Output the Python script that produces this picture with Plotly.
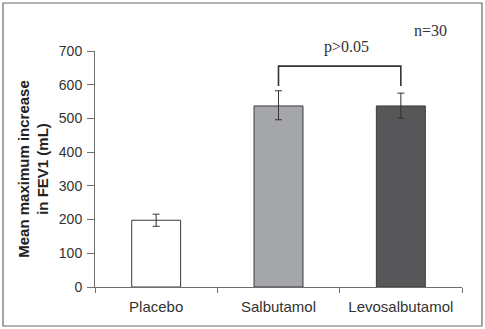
import plotly.graph_objects as go

# Mean maximum increase in FEV1 (mL) with SE, n=30
treatments = ["Placebo", "Salbutamol", "Levosalbutamol"]
mean_increase = [198, 537, 537]
err_plus = [18, 45, 38]
err_minus = [18, 41, 36]
bar_colors = ["#ffffff", "#a5a6a9", "#57575a"]

# significance bracket between the two active treatments
bracket_x = ["Salbutamol", "Salbutamol", "Levosalbutamol", "Levosalbutamol"]
bracket_y = [596, 655, 655, 596]
p_label = "p>0.05"
n_label = "n=30"

y_ticks = [0, 100, 200, 300, 400, 500, 600, 700]

# plot area in pixels: x 95..462, y 51..287
L, R, T, B = 95, 462, 51, 287
W, H = R - L, B - T


def px_x(x):
    return (x - L) / W


def px_y(y):
    return (B - y) / H


serif = dict(family="Liberation Serif, Times New Roman, serif", size=16, color="#333333")

fig = go.Figure()
fig.add_trace(go.Bar(
    x=treatments,
    y=mean_increase,
    marker=dict(color=bar_colors, line=dict(color="#3a3a3a", width=1)),
    error_y=dict(type="data", symmetric=False, array=err_plus, arrayminus=err_minus,
                 color="#333333", thickness=1, width=3.5),
    width=0.4,
    showlegend=False,
))
fig.add_trace(go.Scatter(
    x=bracket_x, y=bracket_y, mode="lines",
    line=dict(color="#333333", width=1.6),
    showlegend=False, hoverinfo="skip",
))

fig.add_annotation(x=px_x(346), y=px_y(47), xref="paper", yref="paper", text=p_label,
                   showarrow=False, font=serif, xanchor="center", yanchor="middle")
fig.add_annotation(x=px_x(430), y=px_y(30), xref="paper", yref="paper", text=n_label,
                   showarrow=False, font=serif, xanchor="center", yanchor="middle")

# outer frame
fig.add_shape(type="rect", xref="paper", yref="paper",
              x0=px_x(3), x1=px_x(482), y0=px_y(326), y1=px_y(3),
              line=dict(color="#6a6a6a", width=1.2), fillcolor="rgba(0,0,0,0)")

fig.update_layout(
    width=485, height=329,
    margin=dict(l=L, r=485 - R, t=T, b=329 - B),
    paper_bgcolor="white", plot_bgcolor="white",
    font=dict(family="Liberation Sans, Arial, sans-serif", color="#333333"),
    bargap=0.6,
)
fig.update_xaxes(
    type="category", range=[-0.5, 2.5],
    showline=True, linecolor="#6e6e6e", linewidth=1,
    ticks="outside", tickson="boundaries", ticklen=5, tickcolor="#6e6e6e",
    ticklabelstandoff=6,
    tickfont=dict(size=15, color="#333333"),
    showgrid=False, zeroline=False,
)
fig.update_yaxes(
    range=[0, 700], tickvals=y_ticks,
    showline=True, linecolor="#6e6e6e", linewidth=1,
    ticks="outside", ticklen=7, tickcolor="#6e6e6e",
    ticklabelstandoff=2,
    tickfont=dict(size=14, color="#333333"),
    showgrid=False, zeroline=False,
    title=dict(text="<b>Mean maximum increase<br>in FEV1 (mL)</b>",
               font=dict(size=15, color="#222222"), standoff=6),
)

fig.write_html("out.html")
